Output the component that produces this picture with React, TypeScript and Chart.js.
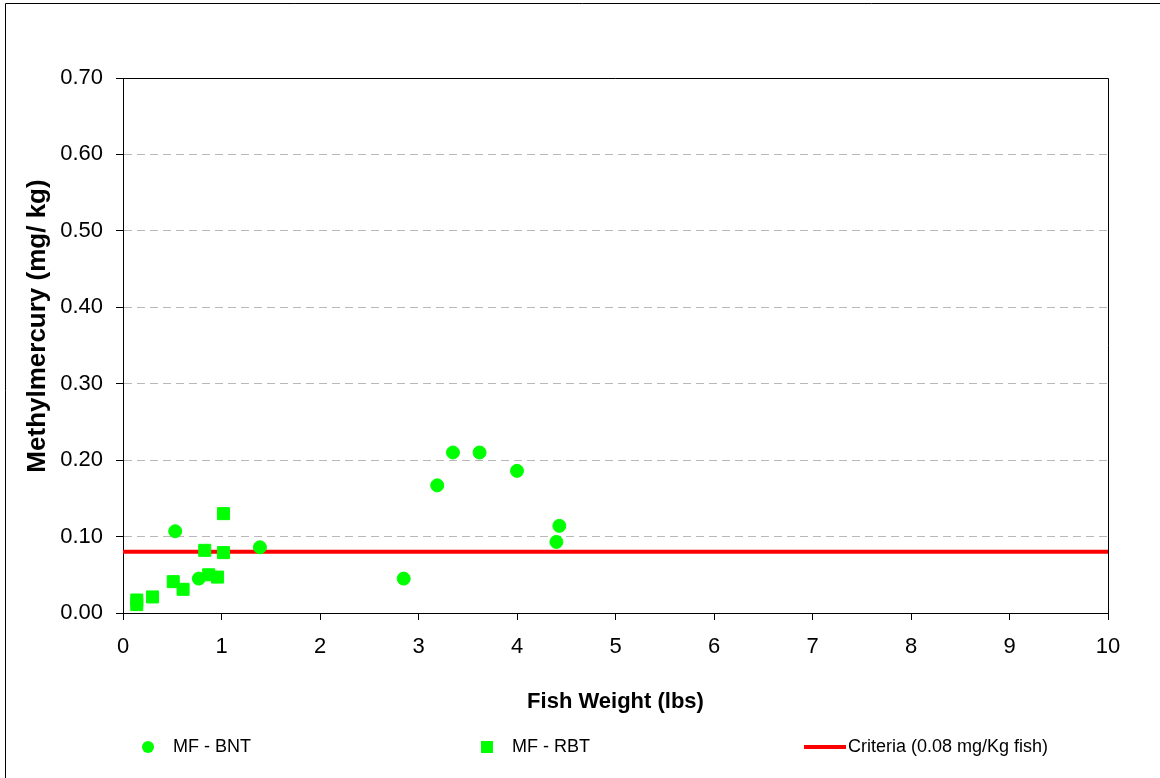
import React, { useEffect, useRef } from "react";
import { Chart, registerables } from "chart.js";

Chart.register(...registerables);

// ---- Data ----
const bntWeight = [0.53, 0.77, 1.39, 2.85, 3.19, 3.35, 3.62, 4.0, 4.4, 4.43];
const bntMeHg = [0.107, 0.045, 0.086, 0.045, 0.167, 0.21, 0.21, 0.186, 0.093, 0.114];

const rbtWeight = [0.14, 0.14, 0.3, 0.51, 0.61, 0.83, 0.87, 0.96, 1.02, 1.02];
const rbtMeHg = [0.017, 0.011, 0.021, 0.041, 0.031, 0.082, 0.05, 0.047, 0.13, 0.079];

const criteriaX = [0, 10];
const criteriaValue = 0.08;

const xTickValues = [0, 1, 2, 3, 4, 5, 6, 7, 8, 9, 10];
const yTickValues = [0, 0.1, 0.2, 0.3, 0.4, 0.5, 0.6, 0.7];

const seriesLabels = ["MF - BNT", "MF - RBT", "Criteria (0.08 mg/Kg fish)"];
const xAxisTitle = "Fish Weight (lbs)";
const yAxisTitle = "Methylmercury (mg/ kg)";

// ---- Styles ----
const GREEN = "#00FF00";
const RED = "#FF0000";
const GRID = "#b8b8b8";
const FONT = "'Liberation Sans', Arial, Helvetica, sans-serif";

const outerFramePlugin = {
  id: "outerFrame",
  beforeDraw(chart: any) {
    const { ctx } = chart;
    ctx.save();
    ctx.fillStyle = "#ffffff";
    ctx.fillRect(0, 0, chart.width, chart.height);
    ctx.strokeStyle = "#000";
    ctx.lineWidth = 1;
    ctx.beginPath();
    ctx.moveTo(5.5, chart.height);
    ctx.lineTo(5.5, 3.5);
    ctx.lineTo(chart.width, 3.5);
    ctx.stroke();
    ctx.restore();
  },
};

const plotFramePlugin = {
  id: "plotFrame",
  beforeDatasetsDraw(chart: any) {
    const { ctx, chartArea } = chart;
    const t = Math.round(chartArea.top) + 0.5;
    const r = Math.round(chartArea.right) + 0.5;
    const b = Math.round(chartArea.bottom);
    ctx.save();
    ctx.strokeStyle = "#000";
    ctx.lineWidth = 1;
    ctx.beginPath();
    ctx.moveTo(Math.round(chartArea.left), t);
    ctx.lineTo(r, t);
    ctx.lineTo(r, b);
    ctx.stroke();
    ctx.restore();
  },
};

const yTitlePlugin = {
  id: "yTitle",
  afterDraw(chart: any) {
    const { ctx } = chart;
    ctx.save();
    ctx.translate(38, 326);
    ctx.rotate(-Math.PI / 2);
    ctx.font = `bold 26px ${FONT}`;
    ctx.fillStyle = "#000";
    ctx.textAlign = "center";
    ctx.textBaseline = "middle";
    ctx.fillText(yAxisTitle, 0, 0);
    ctx.restore();
  },
};

const legendPlugin = {
  id: "customLegend",
  afterDraw(chart: any) {
    const { ctx } = chart;
    const y = 747;
    ctx.save();
    ctx.font = `18px ${FONT}`;
    ctx.textBaseline = "middle";
    ctx.textAlign = "left";

    ctx.fillStyle = GREEN;
    ctx.beginPath();
    ctx.arc(148, y, 6, 0, Math.PI * 2);
    ctx.fill();
    ctx.fillStyle = "#000";
    ctx.fillText(seriesLabels[0], 173, y);

    ctx.fillStyle = GREEN;
    ctx.fillRect(481, y - 6, 12, 12);
    ctx.fillStyle = "#000";
    ctx.fillText(seriesLabels[1], 512, y);

    ctx.strokeStyle = RED;
    ctx.lineWidth = 4;
    ctx.beginPath();
    ctx.moveTo(804, y);
    ctx.lineTo(846, y);
    ctx.stroke();
    ctx.fillStyle = "#000";
    ctx.fillText(seriesLabels[2], 848, y);
    ctx.restore();
  },
};

export default function App() {
  const canvasRef = useRef<HTMLCanvasElement | null>(null);

  useEffect(() => {
    if (!canvasRef.current) return;
    Chart.defaults.font.family = FONT;
    Chart.defaults.color = "#000";

    const chart = new Chart(canvasRef.current, {
      type: "scatter",
      data: {
        datasets: [
          {
            label: seriesLabels[0],
            data: bntWeight.map((x, i) => ({ x, y: bntMeHg[i] })),
            pointStyle: "circle",
            pointRadius: 6.5,
            pointBackgroundColor: GREEN,
            pointBorderColor: GREEN,
            pointBorderWidth: 1,
            showLine: false,
          } as any,
          {
            label: seriesLabels[1],
            data: rbtWeight.map((x, i) => ({ x, y: rbtMeHg[i] })),
            pointStyle: "rect",
            pointRadius: 8.5,
            pointBackgroundColor: GREEN,
            pointBorderColor: GREEN,
            pointBorderWidth: 1,
            showLine: false,
          } as any,
          {
            type: "line",
            label: seriesLabels[2],
            data: criteriaX.map((x) => ({ x, y: criteriaValue })),
            borderColor: RED,
            backgroundColor: RED,
            borderWidth: 4,
            pointRadius: 0,
            showLine: true,
            fill: false,
            tension: 0,
          } as any,
        ],
      },
      options: {
        responsive: false,
        animation: false,
        events: [],
        layout: { padding: { top: 78, right: 52, bottom: 0, left: 0 } },
        plugins: {
          legend: { display: false },
          tooltip: { enabled: false },
          title: { display: false },
        },
        scales: {
          x: {
            type: "linear",
            min: 0,
            max: 10,
            afterBuildTicks: (s: any) => {
              s.ticks = xTickValues.map((v) => ({ value: v }));
            },
            afterFit: (s: any) => {
              s.height = 165;
            },
            ticks: {
              padding: 14,
              maxRotation: 0,
              autoSkip: false,
              font: { size: 22 },
              color: "#000",
            },
            grid: {
              drawOnChartArea: false,
              tickLength: 7,
              tickColor: "#000",
            },
            border: { color: "#000", width: 1 },
            title: {
              display: true,
              text: xAxisTitle,
              color: "#000",
              font: { size: 22, weight: "bold" },
              padding: { top: 0, bottom: 63 },
            },
          },
          y: {
            type: "linear",
            min: 0,
            max: 0.7,
            afterBuildTicks: (s: any) => {
              s.ticks = yTickValues.map((v) => ({ value: v }));
            },
            afterFit: (s: any) => {
              s.width = 123;
            },
            ticks: {
              padding: 13,
              autoSkip: false,
              font: { size: 22 },
              color: "#000",
              callback: (v: any) => Number(v).toFixed(2),
            },
            grid: {
              color: (c: any) =>
                c.tick && (c.tick.value === 0 || c.tick.value >= 0.69) ? "rgba(0,0,0,0)" : GRID,
              lineWidth: 1,
              tickLength: 7,
              tickColor: "#000",
            },
            border: { color: "#000", width: 1, dash: [8, 5] },
            title: { display: false },
          },
        },
      },
      plugins: [outerFramePlugin, plotFramePlugin, yTitlePlugin, legendPlugin],
    });

    return () => {
      chart.destroy();
    };
  }, []);

  return (
    <div
      style={{
        position: "absolute",
        left: 0,
        top: 0,
        width: 1160,
        height: 778,
        background: "#fff",
        overflow: "hidden",
      }}
    >
      <canvas ref={canvasRef} width={1160} height={778} />
    </div>
  );
}
